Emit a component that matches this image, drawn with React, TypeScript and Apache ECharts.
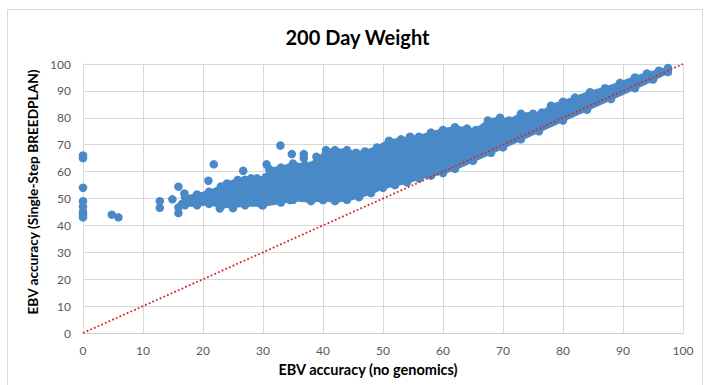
import React, { useEffect, useRef } from "react";
import * as echarts from "echarts";

const TITLE = "200 Day Weight";
const X_NAME = "EBV accuracy (no genomics)";
const Y_NAME = "EBV accuracy (Single-Step BREEDPLAN)";
const AXIS_MIN = 0;
const AXIS_MAX = 100;
const AXIS_STEP = 10;

// Scattered individual points (mostly low-accuracy animals)
const outlierPoints: number[][] = [
  [0, 66], [0, 65], [0, 54], [0, 49], [0, 47], [0, 45], [0, 44], [0, 43],
  [4.8, 44], [5.9, 43],
  [12.8, 49], [12.8, 46.5], [14.9, 49.7], [15.9, 54.4], [16.9, 51.9], [15.9, 46.7], [15.9, 44.6], [16.5, 48],
  [17.8, 48.8], [19, 50.7], [20, 50.7], [20.9, 56.6], [21.8, 62.7], [24, 55.6], [25.8, 56.9], [28, 57.5],
  [26.7, 60.3], [30.6, 62.7], [22.8, 46.3], [25, 46.4], [29.8, 47.6],
  [32.9, 69.7], [34.8, 66.5], [36.8, 66.5], [36.8, 65], [38.9, 65.5],
  [34.5, 49.4], [40, 49.4], [44, 50],
];

// Upper edge of the dense cloud (marker centres)
const upperEdge: number[][] = [
  [17, 50.5], [19, 51.5], [21, 52.5], [23, 54.5], [25, 55.5], [27, 57], [29, 57.5], [30.5, 58],
  [31, 61], [33, 61.5], [35, 63], [37, 62.5], [39, 64], [40.5, 68], [42, 68], [44, 68], [45.5, 67],
  [47, 67.5], [49, 69], [51, 71.5], [53, 72], [54.5, 73], [56, 73], [58, 74.5], [60, 75.5], [62, 76.5],
  [64, 76], [65.5, 75.5], [67.5, 79], [69.5, 80], [71, 79], [73, 81.5], [75, 81.5], [76.5, 82],
  [78, 84.5], [80, 86], [82, 87.5], [84.5, 89.5], [87, 91], [89.5, 93], [92, 95], [94, 96.5],
  [96, 97.5], [97.5, 98.5],
];

// Lower edge of the dense cloud (marker centres)
const lowerEdge: number[][] = [
  [17, 47.5], [19, 47.5], [21, 48], [23, 47], [25, 47], [27, 47.5], [30, 47.5], [33, 48.5],
  [35, 49.5], [38, 49], [40, 49.5], [42, 49], [44, 49.5], [46, 50.5], [48, 52], [50, 54], [52, 55],
  [54, 56], [56, 57.5], [58, 58.5], [60, 59.5], [62, 61], [65, 64], [68, 67], [70, 69], [73, 72],
  [76, 75], [80, 79], [84, 83], [88, 87], [92, 91], [95, 94.2], [97.5, 97],
];

const parityLine: number[][] = [
  [0, 0],
  [100, 100],
];

const BLUE = "#4A89C8";
const FONT = "Lato";

export default function App() {
  const ref = useRef<HTMLDivElement>(null);

  useEffect(() => {
    document.body.style.margin = "0";
    if (!ref.current) return;
    const chart = echarts.init(ref.current, undefined, { renderer: "svg" });

    const bandPoints = [...upperEdge, ...[...lowerEdge].reverse()];

    chart.setOption({
      animation: false,
      backgroundColor: "#ffffff",
      textStyle: { fontFamily: FONT },
      title: {
        text: TITLE,
        left: "center",
        top: 22,
        textStyle: { fontFamily: FONT, fontSize: 20, fontWeight: "bold", color: "#000000" },
      },
      graphic: [
        {
          type: "rect",
          silent: true,
          z: -10,
          shape: { x: 7.5, y: 9.5, width: 695, height: 385 },
          style: { fill: "none", stroke: "#d9d9d9", lineWidth: 1 },
        },
      ],
      grid: { left: 83, right: 32, top: 64, bottom: 52, containLabel: false },
      xAxis: {
        type: "value",
        min: AXIS_MIN,
        max: AXIS_MAX,
        interval: AXIS_STEP,
        name: X_NAME,
        nameLocation: "middle",
        nameGap: 29,
        nameTextStyle: {
          fontFamily: FONT,
          fontSize: 14.5,
          fontWeight: "bold",
          color: "#000000",
          padding: [0, 30, 0, 0],
        },
        axisLine: { show: true, lineStyle: { color: "#cfcfcf" } },
        axisTick: { show: false },
        axisLabel: { fontFamily: FONT, fontSize: 12, color: "#595959", margin: 11 },
        splitLine: { show: true, lineStyle: { color: "#d9d9d9" } },
      },
      yAxis: {
        type: "value",
        min: AXIS_MIN,
        max: AXIS_MAX,
        interval: AXIS_STEP,
        name: Y_NAME,
        nameLocation: "middle",
        nameGap: 43,
        nameTextStyle: {
          fontFamily: FONT,
          fontSize: 13.7,
          fontWeight: "bold",
          color: "#000000",
          padding: [0, 0, 0, 13],
        },
        axisLine: { show: true, lineStyle: { color: "#d9d9d9" } },
        axisTick: { show: false },
        axisLabel: { fontFamily: FONT, fontSize: 12, color: "#595959", margin: 12 },
        splitLine: { show: true, lineStyle: { color: "#d9d9d9" } },
      },
      series: [
        {
          type: "custom",
          z: 2,
          silent: true,
          data: [[50, 60]],
          renderItem: (_params: any, api: any) => {
            const pts = bandPoints.map((p) => api.coord(p));
            return {
              type: "polygon",
              shape: { points: pts },
              style: { fill: BLUE, stroke: BLUE, lineWidth: 3, lineJoin: "round" },
            };
          },
        },
        {
          type: "scatter",
          z: 3,
          symbolSize: 8.5,
          itemStyle: { color: BLUE, opacity: 1 },
          data: [...upperEdge, ...lowerEdge],
        },
        {
          type: "scatter",
          z: 3,
          symbolSize: 8.5,
          itemStyle: { color: BLUE, opacity: 1 },
          data: outlierPoints,
        },
        {
          type: "line",
          z: 5,
          data: parityLine,
          symbol: "none",
          silent: true,
          lineStyle: { color: "#D02A2A", width: 1.8, type: [1.8, 2.2] },
        },
      ],
    });

    return () => chart.dispose();
  }, []);

  return <div ref={ref} style={{ width: 715, height: 385 }} />;
}
